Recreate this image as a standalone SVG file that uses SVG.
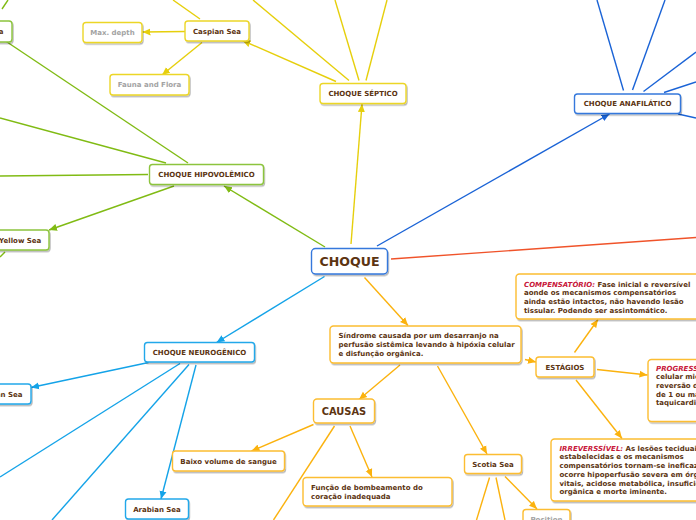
<svg xmlns="http://www.w3.org/2000/svg" width="696" height="520" viewBox="0 0 696 520">
<defs>
<filter id="sh" x="-10%" y="-20%" width="130%" height="160%"><feDropShadow dx="1" dy="1.5" stdDeviation="0.7" flood-color="#000" flood-opacity="0.28"/></filter>
<marker id="aG" markerUnits="userSpaceOnUse" markerWidth="9" markerHeight="8" refX="8" refY="4" orient="auto"><path d="M0,0.5 L8,4 L0,7.5 z" fill="#80bb14"/></marker>
<marker id="aY" markerUnits="userSpaceOnUse" markerWidth="9" markerHeight="8" refX="8" refY="4" orient="auto"><path d="M0,0.5 L8,4 L0,7.5 z" fill="#e6cf0c"/></marker>
<marker id="aB" markerUnits="userSpaceOnUse" markerWidth="9" markerHeight="8" refX="8" refY="4" orient="auto"><path d="M0,0.5 L8,4 L0,7.5 z" fill="#1a63d6"/></marker>
<marker id="aL" markerUnits="userSpaceOnUse" markerWidth="9" markerHeight="8" refX="8" refY="4" orient="auto"><path d="M0,0.5 L8,4 L0,7.5 z" fill="#14a3e8"/></marker>
<marker id="aO" markerUnits="userSpaceOnUse" markerWidth="9" markerHeight="8" refX="8" refY="4" orient="auto"><path d="M0,0.5 L8,4 L0,7.5 z" fill="#fbb20e"/></marker>
</defs>
<style>
text{font-family:"DejaVu Sans","Verdana",sans-serif;font-weight:bold;font-size:7px;fill:#5c3411}
.c{text-anchor:middle}
.e{text-anchor:end}
.g{fill:#a3a3a3}
.r{fill:#c8173a;font-style:italic}
rect{fill:#fff;stroke-width:1.4;filter:url(#sh)}
.bG{stroke:#8cc43c}.bY{stroke:#ecd628}.bB{stroke:#3478dc}.bL{stroke:#22a8ea}.bO{stroke:#fcbd30}
line{stroke-width:1.4;fill:none}
.lG{stroke:#80bb14}.lY{stroke:#e6cf0c}.lB{stroke:#1a63d6}.lL{stroke:#14a3e8}.lO{stroke:#fbb20e}.lR{stroke:#f0532a}
</style>
<g id="connectors">
<line class="lG" x1="325" y1="247" x2="224" y2="186" marker-end="url(#aG)"/>
<line class="lG" x1="188" y1="163" x2="4" y2="40"/>
<line class="lG" x1="2" y1="9" x2="8" y2="0"/>
<line class="lG" x1="166" y1="163" x2="0" y2="118"/>
<line class="lG" x1="148" y1="174.5" x2="0" y2="176"/>
<line class="lG" x1="174" y1="186" x2="49" y2="230" marker-end="url(#aG)"/>
<line class="lG" x1="5" y1="252" x2="0" y2="257"/>
<line class="lY" x1="351" y1="244" x2="362" y2="104" marker-end="url(#aY)"/>
<line class="lY" x1="336" y1="81.5" x2="242.5" y2="40.5" marker-end="url(#aY)"/>
<line class="lY" x1="349" y1="80.5" x2="253" y2="0"/>
<line class="lY" x1="359" y1="80.5" x2="335" y2="0"/>
<line class="lY" x1="366" y1="80.5" x2="387" y2="0"/>
<line class="lY" x1="173" y1="0" x2="200" y2="19"/>
<line class="lY" x1="185" y1="31.5" x2="142.5" y2="32" marker-end="url(#aY)"/>
<line class="lY" x1="202" y1="42.5" x2="162" y2="75" marker-end="url(#aY)"/>
<line class="lB" x1="377" y1="246" x2="609.5" y2="114" marker-end="url(#aB)"/>
<line class="lB" x1="623.5" y1="90.5" x2="597" y2="0"/>
<line class="lB" x1="632.5" y1="90" x2="665" y2="0"/>
<line class="lB" x1="643.5" y1="91.5" x2="696" y2="52"/>
<line class="lB" x1="664" y1="92.5" x2="696" y2="82"/>
<line class="lB" x1="678" y1="114" x2="696" y2="118"/>
<line class="lR" x1="391" y1="259" x2="696" y2="237.5"/>
<line class="lL" x1="324.5" y1="276.5" x2="216.5" y2="342.5" marker-end="url(#aL)"/>
<line class="lL" x1="148.5" y1="362.5" x2="31" y2="387.5" marker-end="url(#aL)"/>
<line class="lL" x1="180" y1="363.5" x2="0" y2="477"/>
<line class="lL" x1="189" y1="364.5" x2="52" y2="520"/>
<line class="lL" x1="196" y1="365" x2="161" y2="499" marker-end="url(#aL)"/>
<line class="lO" x1="364.5" y1="277.5" x2="408" y2="325.5" marker-end="url(#aO)"/>
<line class="lO" x1="400" y1="365" x2="359" y2="399.5" marker-end="url(#aO)"/>
<line class="lO" x1="437.5" y1="366" x2="487" y2="454" marker-end="url(#aO)"/>
<line class="lO" x1="525" y1="359.5" x2="536" y2="362" marker-end="url(#aO)"/>
<line class="lO" x1="574.5" y1="352.5" x2="598" y2="319.5" marker-end="url(#aO)"/>
<line class="lO" x1="597" y1="369.5" x2="647.5" y2="375" marker-end="url(#aO)"/>
<line class="lO" x1="576" y1="380" x2="622" y2="438.5" marker-end="url(#aO)"/>
<line class="lO" x1="313.5" y1="424.5" x2="251.5" y2="451" marker-end="url(#aO)"/>
<line class="lO" x1="334.5" y1="426" x2="273.5" y2="520"/>
<line class="lO" x1="350" y1="426" x2="372" y2="477" marker-end="url(#aO)"/>
<line class="lO" x1="489.5" y1="477.5" x2="476.5" y2="520"/>
<line class="lO" x1="496" y1="477.5" x2="505" y2="520"/>
<line class="lO" x1="505" y1="476.5" x2="537" y2="509" marker-end="url(#aO)"/>
</g>
<g id="choque"><rect class="bB" x="311.5" y="248.5" width="76" height="25.5" rx="4"/><text class="c" x="349.5" y="265.8" style="font-size:12.6px">CHOQUE</text></g>
<g id="septico"><rect class="bY" x="320" y="83.5" width="86" height="20" rx="3"/><text class="c" x="363" y="96">CHOQUE SÉPTICO</text></g>
<g id="caspian"><rect class="bY" x="185" y="21" width="64" height="20" rx="3"/><text class="c" x="217" y="33.5">Caspian Sea</text></g>
<g id="maxdepth"><rect class="bY" x="83" y="22.5" width="59" height="20" rx="3"/><text class="c g" x="112.5" y="35">Max. depth</text></g>
<g id="fauna"><rect class="bY" x="110" y="74.5" width="79" height="20.5" rx="3"/><text class="c g" x="149.5" y="87.3">Fauna and Flora</text></g>
<g id="bering"><rect class="bG" x="-45" y="21" width="57" height="21" rx="3"/><text class="e" x="3.5" y="34">Bering Sea</text></g>
<g id="hipo"><rect class="bG" x="149.5" y="164.5" width="114" height="20" rx="3"/><text class="c" x="206.5" y="177">CHOQUE HIPOVOLÊMICO</text></g>
<g id="yellowsea"><rect class="bG" x="-8" y="230" width="57" height="20" rx="3"/><text class="e" x="41.3" y="242.5">Yellow Sea</text></g>
<g id="anaf"><rect class="bB" x="574.5" y="94" width="106" height="19.5" rx="3"/><text class="c" x="627.5" y="106.3">CHOQUE ANAFILÁTICO</text></g>
<g id="neuro"><rect class="bL" x="144.5" y="342.5" width="110" height="19.5" rx="3"/><text class="c" x="199.5" y="354.8">CHOQUE NEUROGÊNICO</text></g>
<g id="nsea"><rect class="bL" x="-40" y="384" width="71" height="20" rx="3"/><text class="e" x="22.5" y="396.5">Andaman Sea</text></g>
<g id="arabian"><rect class="bL" x="125.5" y="499" width="63" height="20" rx="3"/><text class="c" x="157" y="511.5">Arabian Sea</text></g>
<g id="sindrome"><rect class="bO" x="330" y="326" width="191" height="37" rx="3.5"/>
<text x="338.5" y="338.3">Síndrome causada por um desarranjo na</text>
<text x="338.5" y="347.1">perfusão sistêmica levando à hipóxia celular</text>
<text x="338.5" y="355.9">e disfunção orgânica.</text></g>
<g id="estagios"><rect class="bO" x="536" y="357" width="58" height="20" rx="3"/><text class="c" x="565" y="369.5">ESTÁGIOS</text></g>
<g id="compensatorio"><rect class="bO" x="516" y="274" width="200" height="45" rx="3.5"/>
<text x="524" y="286.6"><tspan class="r">COMPENSATÓRIO:</tspan> Fase inicial e reversível</text>
<text x="524" y="295.3">aonde os mecanismos compensatórios</text>
<text x="524" y="304">ainda estão intactos, não havendo lesão</text>
<text x="524" y="312.7">tissular. Podendo ser assintomático.</text></g>
<g id="progressivo"><rect class="bO" x="648" y="359.5" width="100" height="62" rx="3.5"/>
<text x="656" y="370.5"><tspan class="r">PROGRESSIVO:</tspan></text>
<text x="656" y="379.3">celular microvascular</text>
<text x="656" y="388">reversão difícil</text>
<text x="656" y="396.7">de 1 ou mais órgãos</text>
<text x="656" y="405.4">taquicardia</text></g>
<g id="irreversivel"><rect class="bO" x="551" y="439" width="200" height="62" rx="3.5"/>
<text x="559.5" y="450.7"><tspan class="r">IRREVERSSÍVEL:</tspan> As lesões teciduais</text>
<text x="559.5" y="459.4">estabelecidas e os mecanismos</text>
<text x="559.5" y="468.1">compensatórios tornam-se ineficazes,</text>
<text x="559.5" y="476.8">ocorre hipoperfusão severa em órgãos</text>
<text x="559.5" y="485.5">vitais, acidose metabólica, insuficiência</text>
<text x="559.5" y="494.2">orgânica e morte iminente.</text></g>
<g id="causas"><rect class="bO" x="313.5" y="399" width="61" height="24" rx="3.5"/><text class="c" x="344" y="414.7" style="font-size:9.9px">CAUSAS</text></g>
<g id="baixo"><rect class="bO" x="172.5" y="451" width="112" height="20" rx="3"/><text class="c" x="228.5" y="463.5">Baixo volume de sangue</text></g>
<g id="funcao"><rect class="bO" x="303" y="477.5" width="149" height="28.5" rx="3.5"/>
<text x="311" y="490.2">Função de bombeamento do</text>
<text x="311" y="498.9">coração inadequada</text></g>
<g id="scotia"><rect class="bO" x="464.5" y="454.5" width="57" height="19" rx="3"/><text class="c" x="493" y="466.5">Scotia Sea</text></g>
<g id="position"><rect class="bO" x="523" y="509.5" width="47" height="20" rx="3"/><text class="c g" x="546.5" y="522">Position</text></g>
</svg>
